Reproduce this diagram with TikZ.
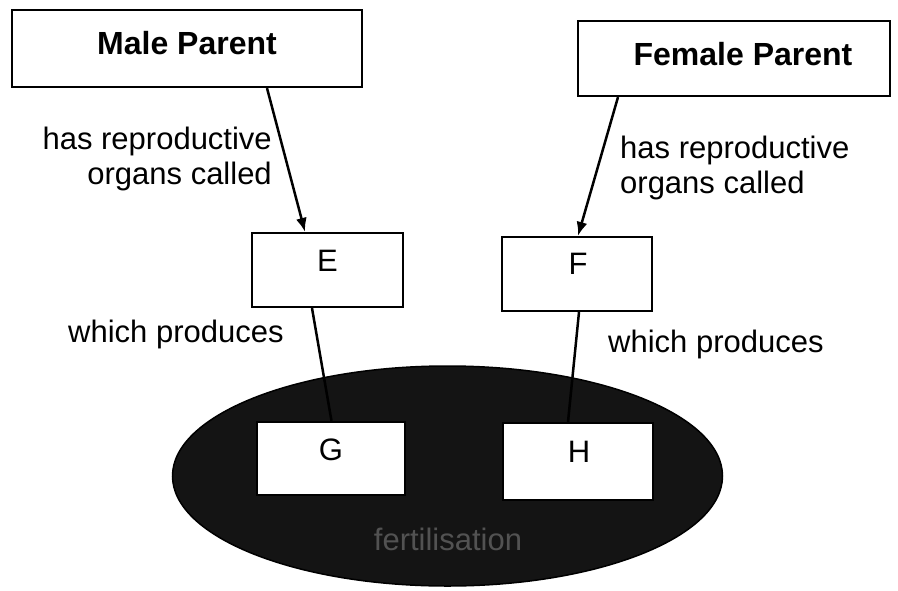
\documentclass[tikz,border=0pt]{standalone}
\usepackage{fontspec}
\setmainfont{Liberation Sans}
\usetikzlibrary{arrows.meta, shapes.geometric}
\begin{document}
\begin{tikzpicture}[x=1pt, y=-1pt,
  box/.style={draw=black, line width=2.2pt, fill=white, inner sep=0pt},
  parentbox/.style={box, font=\fontsize{32}{38}\selectfont\bfseries},
  letterbox/.style={box, font=\fontsize{31}{36}\selectfont},
  note/.style={font=\fontsize{31}{35}\selectfont, inner sep=0pt},
  link/.style={line width=2.5pt},
  arrowlink/.style={link, -{Latex[length=14pt, width=11pt]}}]
  \useasboundingbox (0,0) rectangle (898,590);
  \fill[white] (0,0) rectangle (898,590);

  % gamete ellipse
  \node[ellipse, draw=black, line width=1.5pt, fill=black!92,
        minimum width=550, minimum height=220, inner sep=0pt] (zyg) at (447.5,476) {};
  \node[note, text=black!68, anchor=base] (fert) at (448,550) {fertilisation};

  % parents
  \node[parentbox, minimum width=350, minimum height=77,
        label={[font=\fontsize{32}{38}\selectfont\bfseries, yshift=5.5pt]center:Male Parent}]
        (male) at (187,48.5) {};
  \node[parentbox, minimum width=312, minimum height=75,
        label={[font=\fontsize{32}{38}\selectfont\bfseries, xshift=9pt, yshift=4.5pt]center:Female Parent}]
        (female) at (734,58.5) {};

  % organs
  \node[letterbox, minimum width=151, minimum height=74,
        label={[font=\fontsize{31}{36}\selectfont, yshift=9pt]center:E}] (E) at (327.5,270) {};
  \node[letterbox, minimum width=150, minimum height=74,
        label={[font=\fontsize{31}{36}\selectfont, xshift=1pt, yshift=10pt]center:F}] (F) at (577,274) {};

  % gametes
  \node[letterbox, minimum width=148, minimum height=73,
        label={[font=\fontsize{31}{36}\selectfont, yshift=9pt]center:G}] (G) at (331,458.5) {};
  \node[letterbox, minimum width=150, minimum height=77,
        label={[font=\fontsize{31}{36}\selectfont, xshift=1pt, yshift=10pt]center:H}] (H) at (578,461.5) {};

  % connectors
  \draw[arrowlink] ([xshift=80pt]male.south) -- ([xshift=-22.5pt]E.north);
  \draw[arrowlink] ([xshift=-116pt]female.south) -- ([xshift=1pt]F.north);
  \draw[link] ([xshift=-15.5pt]E.south) -- ([xshift=0.5pt]G.north);
  \draw[link] ([xshift=2pt]F.south) -- ([xshift=-10pt]H.north);

  % connector texts
  \node[note, align=right, anchor=north east] (lblmale) at (272,126.5)
        {has reproductive\\organs called};
  \node[note, align=left, anchor=north west] (lblfemale) at (620,135.5)
        {has reproductive\\organs called};
  \node[note, anchor=base west] (lblE) at (68,342) {which produces};
  \node[note, anchor=base west] (lblF) at (608,352) {which produces};
\end{tikzpicture}
\end{document}
